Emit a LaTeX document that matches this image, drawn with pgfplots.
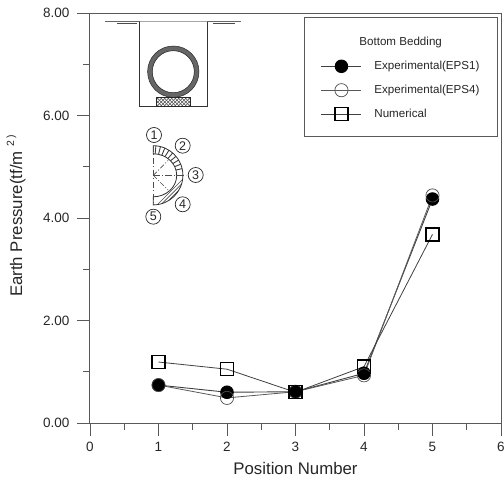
\documentclass[border=0pt]{standalone}
\usepackage{fontspec}
\setmainfont{Liberation Sans}
\usepackage{pgfplots}
\pgfplotsset{compat=1.18}
\definecolor{axc}{gray}{0.35}
\begin{document}
\begin{tikzpicture}[x=1pt,y=1pt]
\path[use as bounding box] (0,0) rectangle (504,480);
\begin{axis}[
  at={(90pt,57pt)},anchor=south west,
  scale only axis,width=411pt,height=410pt,
  xmin=0,xmax=6,ymin=0,ymax=8,
  xtick={0,1,2,3,4,5,6},ytick={0,2,4,6,8},
  minor xtick={0.5,1.5,2.5,3.5,4.5,5.5},
  minor ytick={1,3,5,7},
  tick align=outside,
  major tick length=13pt,minor tick length=7pt,
  axis line style={axc,line width=1pt},
  every tick/.style={axc,line width=0.9pt},
  tick pos=left,
  clip=false,
  /pgf/number format/assume math mode=true,
  xticklabel style={font=\fontsize{13.5}{14}\selectfont,text=black!85,yshift=-3pt},
  yticklabel style={font=\fontsize{13.5}{14}\selectfont,text=black!85,/pgf/number format/fixed,/pgf/number format/fixed zerofill,/pgf/number format/precision=2,xshift=-4pt},
  xticklabel={\pgfmathprintnumber[fixed,precision=0]{\tick}},
  xlabel={Position Number},
  ylabel={Earth Pressure(tf/m\hspace{5pt}\raisebox{8pt}{\fontsize{10.5}{12}\selectfont 2\hspace{2pt})}},
  xlabel style={font=\fontsize{16.8}{17}\selectfont,text=black!85,at={(axis description cs:0.5,0)},anchor=center,yshift=-45pt},
  ylabel style={font=\fontsize{16.8}{17}\selectfont,text=black!85,at={(axis description cs:0,0.307)},anchor=base west,yshift=68pt,inner sep=0pt},
  legend style={at={(304pt,463pt)},anchor=north west,
    /tikz/shift={(-90pt,-57pt)},
    draw=axc,line width=1pt,inner xsep=16.5pt,inner ysep=15.5pt,
    font=\fontsize{11.6}{12}\selectfont,text=black!85,
    nodes={inner ysep=0pt},
    row sep=11pt,legend cell align=left,
    /tikz/every odd column/.append style={column sep=10.5pt}},
  legend image code/.code={
    \draw[mark repeat=2,mark phase=2,#1] plot coordinates {(0pt,0pt) (20pt,0pt) (40pt,0pt)};
  },
]
\addlegendimage{legend image code/.code={\path[draw=none,fill=none] (0pt,-7pt) rectangle (40pt,9pt);}}
\addlegendentry{\hspace{-15pt}Bottom Bedding}
\addplot[black!75,line width=0.9pt,mark=*,mark size=6.3pt,mark options={fill=black,draw=black,solid}]
  coordinates {(1,0.74)(2,0.60)(3,0.61)(4,0.97)(5,4.37)};
\addlegendentry{Experimental(EPS1)}
\addplot[black!65,line width=0.8pt,mark=o,mark size=6.6pt,mark options={draw=black!70,line width=0.7pt,solid}]
  coordinates {(1,0.74)(2,0.49)(3,0.61)(4,0.93)(5,4.44)};
\addlegendentry{Experimental(EPS4)}
\addplot[black!75,line width=0.8pt,mark=square,mark size=6.5pt,mark options={draw=black,line width=1.3pt,solid}]
  coordinates {(1,1.19)(2,1.05)(3,0.60)(4,1.10)(5,3.68)};
\addlegendentry{Numerical}
\end{axis}
% schematic, in pixel coordinates of the reference
\begin{scope}[shift={(0,480)},y=-1pt,x=1pt]
\draw[black!35,line width=1pt] (139.7,21.7) -- (207.3,21.7);
\draw[black!60,line width=1.3pt] (105,21.7) -- (139.7,21.7) (207.3,21.7) -- (241,21.7);
\draw[black!70,line width=1pt] (117,23.2) -- (137,23.2) (213,23.2) -- (235,23.2);
\draw[black!80,line width=1pt] (139.7,21.7) -- (139.7,106.3) -- (207.3,106.3) -- (207.3,21.7);
\draw[black!60!white,line width=4.7pt] (173.3,71.7) circle (23.3);
\draw[black!85,line width=0.5pt] (173.3,71.7) circle (25.7) (173.3,71.7) circle (21);
\begin{scope}
\clip (156.3,97.7) rectangle (190.3,106.3);
\foreach \i in {0,1,...,14}{
  \draw[black!70,line width=0.5pt] (150+3.5*\i,97.7) -- +(8.6,8.6);
  \draw[black!70,line width=0.5pt] (150+3.5*\i,106.3) -- +(8.6,-8.6);
}
\end{scope}
\draw[black!85,line width=0.8pt] (156.3,97.7) rectangle (190.3,106.3);
% half ring
\begin{scope}
\clip (153.3,145.7) arc[start angle=-90,end angle=0,radius=29.6] -- (176.7,175.3) arc[start angle=0,end angle=-90,x radius=23.4,y radius=21.5] -- cycle;
\foreach \a in {-85,-76,...,-5}{
  \draw[black!75,line width=0.9pt] (153.3,175.3) -- +(\a:34);
}
\end{scope}
\begin{scope}
\clip (182.9,175.3) arc[start angle=0,end angle=90,radius=29.6] -- (153.3,196.8) arc[start angle=90,end angle=0,x radius=23.4,y radius=21.5] -- cycle;
\foreach \i in {0,1,...,14}{
  \draw[black!70,line width=0.7pt] (150+3.6*\i,212) -- +(42,-42);
}
\end{scope}
\draw[black!80,line width=0.8pt] (153.3,145.7) arc[start angle=-90,end angle=90,radius=29.6] -- (153.3,196.8) arc[start angle=90,end angle=-90,x radius=23.4,y radius=21.5] -- cycle;
\draw[black!70,line width=0.7pt,dash pattern=on 6pt off 2.5pt on 1pt off 2.5pt] (153.3,145.7) -- (153.3,205);
\foreach \a in {-45,45}{
  \draw[black!70,line width=0.7pt,dash pattern=on 5pt off 2pt on 1pt off 2pt] (153.3,175.3) -- +(\a:21);
}
\draw[black!70,line width=0.7pt,dash pattern=on 7pt off 2pt on 1pt off 2pt] (153.3,175.3) -- +(33,0);
\foreach \n/\x/\y in {1/154/135,2/182.7/145.7,3/195.7/175,4/182.7/204.3,5/153.3/216.7}{
  \draw[black!85,line width=0.7pt] (\x,\y) circle (7.5);
  \node[font=\fontsize{12.5}{13}\selectfont,text=black!85,inner sep=0pt] at (\x,\y) {\n};
}
\end{scope}
\end{tikzpicture}
\end{document}
